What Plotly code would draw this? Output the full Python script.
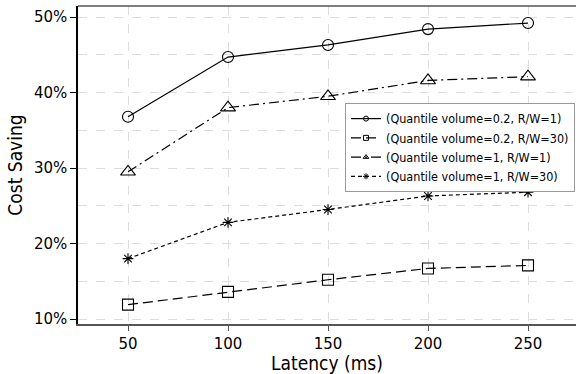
import plotly.graph_objects as go

latency = [50, 100, 150, 200, 250]
names = ["(Quantile volume=0.2, R/W=1)", "(Quantile volume=0.2, R/W=30)",
         "(Quantile volume=1, R/W=1)", "(Quantile volume=1, R/W=30)"]
s_02_1 = [36.8, 44.7, 46.3, 48.4, 49.2]
s_02_30 = [11.9, 13.6, 15.2, 16.7, 17.1]
s_1_1 = [29.5, 38.0, 39.5, 41.6, 42.1]
s_1_30 = [18.0, 22.8, 24.5, 26.3, 26.8]
series = [s_02_1, s_02_30, s_1_1, s_1_30]
symbols = ["circle-open", "square-open", "triangle-up-open", "asterisk-open"]
dashes = ["solid", "10px,5px", "10px,4px,2px,4px", "4px,3px"]
sizes = [11, 11, 13, 9]

FONT = "DejaVu Sans Condensed, DejaVu Sans"
TICKFONT = dict(family="DejaVu Sans", size=15, color="black")

fig = go.Figure()
for nm, ys, sym, d, sz in zip(names, series, symbols, dashes, sizes):
    fig.add_trace(go.Scatter(
        x=latency, y=ys, name=nm, mode="lines+markers", showlegend=False,
        line=dict(color="black", width=1.2, dash=d),
        marker=dict(symbol=sym, size=sz, color="black", line=dict(width=1.1, color="black")),
    ))
for nm, sym, d in zip(names, symbols, dashes):
    fig.add_trace(go.Scatter(
        x=[None], y=[None], name=nm, mode="lines+markers",
        line=dict(color="black", width=1.2, dash=d),
        marker=dict(symbol=sym, size=5, color="black", line=dict(width=1, color="black")),
    ))

fig.update_layout(
    width=576, height=374,
    margin=dict(l=78, r=0, t=6, b=50, autoexpand=False),
    paper_bgcolor="white", plot_bgcolor="white",
    font=dict(family=FONT, color="black", size=16),
    showlegend=True,
    legend=dict(x=0.998, y=0.695, xanchor="right", yanchor="top",
                bgcolor="white", bordercolor="#999999", borderwidth=1,
                font=dict(size=12.5), tracegroupgap=0, itemwidth=30),
)
fig.update_xaxes(
    range=[25, 274], tickvals=[50, 100, 150, 200, 250], tickfont=TICKFONT,
    showgrid=True, gridcolor="#dddddd", griddash="dash", gridwidth=1,
    showline=True, linecolor="#555555", linewidth=1.5, mirror=False,
    ticks="outside", ticklen=5, tickcolor="#555555",
    title=dict(text="Latency (ms)", font=dict(size=19), standoff=3),
    zeroline=False,
)
fig.update_yaxes(
    range=[9.34, 51.46], tickvals=[10, 20, 30, 40, 50], tickfont=TICKFONT,
    ticktext=["10%", "20%", "30%", "40%", "50%"],
    showgrid=True, gridcolor="#dddddd", griddash="dash", gridwidth=1,
    showline=True, linecolor="black", linewidth=1.5,
    ticks="outside", ticklen=6, tickcolor="black",
    title=dict(text="Cost Saving", font=dict(size=19), standoff=6),
    zeroline=False,
    minor=dict(dtick=5, tick0=0, showgrid=True, gridcolor="#dddddd", griddash="dash", gridwidth=1),
)
fig.add_shape(type="line", xref="paper", yref="paper", x0=0, x1=1, y0=1, y1=1,
              line=dict(color="#555555", width=1.5))
fig.write_html("out.html", config={"displayModeBar": False},
               post_script="document.body.style.margin='0px';document.body.style.overflow='hidden';")
